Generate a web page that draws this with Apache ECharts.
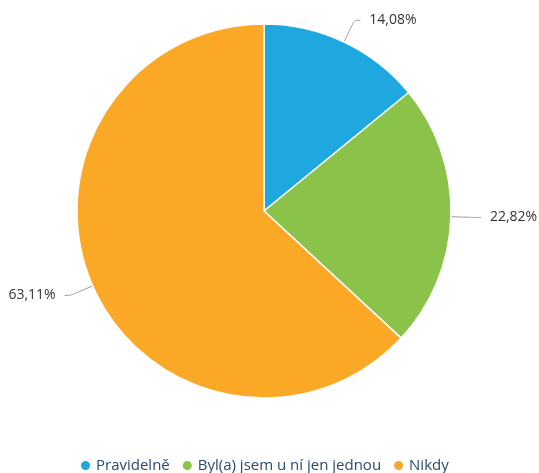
<!DOCTYPE html>
<html>
<head>
<meta charset="utf-8">
<script src="https://cdn.jsdelivr.net/npm/echarts@6/dist/echarts.min.js"></script>
<style>
html,body{margin:0;padding:0;background:#fff;}
#chart{width:539px;height:473px;}
</style>
</head>
<body>
<div id="chart"></div>
<script>
// Answer categories and their shares (percent)
const categories = ['Pravidelně', 'Byl(a) jsem u ní jen jednou', 'Nikdy'];
const shares = [14.08, 22.82, 63.11];
const colors = ['#1fa8e0', '#8bc34a', '#fba826'];

const chart = echarts.init(document.getElementById('chart'), null, { renderer: 'canvas' });

const data = categories.map((name, i) => ({
  name: name,
  value: shares[i],
  itemStyle: { color: colors[i] }
}));

chart.setOption({
  animation: false,
  legend: {
    bottom: -5,
    left: 74,
    icon: 'circle',
    itemWidth: 11,
    itemHeight: 11,
    itemGap: 11,
    textStyle: { fontFamily: 'Open Sans', fontSize: 15, color: '#2b4a6a' }
  },
  series: [{
    type: 'pie',
    center: [264, 211],
    radius: 187,
    startAngle: 90,
    clockwise: true,
    data: data,
    itemStyle: { borderColor: '#ffffff', borderWidth: 1.5 },
    label: {
      show: true,
      fontFamily: 'Open Sans',
      fontSize: 14,
      color: '#333333',
      overflow: 'none',
      distanceToLabelLine: 9,
      formatter: p => p.value.toFixed(2).replace('.', ',') + '%'
    },
    labelLine: {
      show: true,
      length: 24,
      length2: 6,
      smooth: 0.3,
      lineStyle: { color: '#999999', width: 1 }
    },
    emphasis: { disabled: true }
  }]
});
</script>
</body>
</html>
